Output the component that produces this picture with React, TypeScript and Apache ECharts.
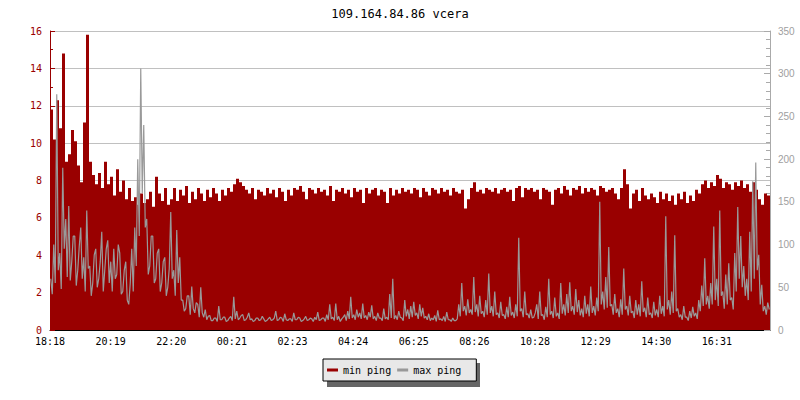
import { useEffect, useRef } from 'react';
import * as echarts from 'echarts';

const TITLE = '109.164.84.86 vcera';
const MIN_SAMPLE_MINUTES = 6;
const MAX_SAMPLE_MINUTES = 3;
const SPAN_MINUTES = 1440;
const TICK_STEP = 121.25;
const tickLabels = ['18:18', '20:19', '22:20', '00:21', '02:23', '04:24', '06:25', '08:26', '10:28', '12:29', '14:30', '16:31'];

// min ping (left axis), one value every 6 minutes
const minPing = [
  11.8, 10.2, 12.3, 10.8, 14.8, 9.0, 9.4, 10.7, 10.1, 8.8, 7.9, 11.1, 15.8, 9.0, 8.3, 7.8, 8.4, 7.6, 9.0, 7.8,
  8.2, 7.2, 8.6, 7.4, 8.0, 7.0, 7.6, 6.9, 7.1, 6.7, 7.3, 6.8, 7.0, 7.4, 6.6, 8.2, 7.3, 6.9, 7.6, 6.7,
  7.0, 7.6, 6.9, 7.5, 7.2, 7.7, 6.8, 7.4, 7.0, 7.6, 7.3, 6.9, 7.5, 7.1, 7.6, 7.3, 6.9, 7.5, 7.2, 7.6,
  7.4, 7.8, 8.1, 7.9, 7.7, 7.5, 7.3, 7.6, 7.0, 7.5, 7.4, 7.2, 7.6, 7.3, 7.5, 7.1, 7.6, 7.4, 6.9, 7.5,
  7.2, 7.6, 7.5, 7.7, 7.4, 7.0, 7.6, 7.5, 7.3, 7.6, 7.4, 7.5, 7.2, 7.7, 6.9, 7.5, 7.4, 7.6, 7.3, 7.5,
  7.1, 7.6, 7.4, 7.5, 6.8, 7.6, 7.3, 7.5, 7.6, 7.2, 7.5, 7.4, 6.8, 7.6, 7.2, 7.5, 7.3, 7.6, 7.4, 7.5,
  7.3, 7.6, 7.5, 7.1, 7.6, 7.4, 7.2, 7.6, 7.5, 7.3, 7.6, 7.4, 7.5, 7.2, 7.6, 7.4, 7.3, 7.5, 6.5, 7.0,
  7.6, 7.9, 7.4, 7.5, 7.3, 7.6, 7.5, 7.4, 7.6, 7.3, 7.5, 7.6, 7.4, 7.5, 6.9, 7.6, 7.7, 7.1, 7.6, 7.5,
  7.6, 7.4, 7.5, 7.0, 7.6, 7.5, 7.4, 6.7, 7.5, 7.6, 7.3, 7.7, 7.5, 7.2, 7.6, 7.5, 7.7, 7.3, 7.6, 7.4,
  7.6, 7.5, 7.2, 7.7, 7.6, 7.4, 7.5, 7.6, 7.3, 7.0, 7.6, 8.6, 7.8, 6.5, 7.3, 7.5, 6.9, 7.6, 7.2, 7.0,
  7.3, 7.1, 6.8, 7.4, 7.0, 7.3, 6.9, 7.2, 6.7, 7.3, 7.0, 7.4, 6.8, 7.2, 6.9, 7.5, 7.3, 7.8, 8.0, 7.6,
  7.9, 7.7, 8.3, 8.1, 7.6, 7.9, 7.8, 7.5, 7.9, 7.7, 8.0, 7.6, 7.8, 7.4, 7.9, 7.5, 7.0, 6.7, 7.3, 7.2,
];

// max ping (right axis), one value every 3 minutes
const maxPing = [
  60, 42, 100, 55, 276, 70, 90, 48, 190, 95, 130, 62, 145, 58, 80, 110, 110, 52, 70, 98,
  120, 60, 85, 45, 140, 72, 75, 40, 55, 88, 95, 50, 60, 80, 115, 45, 70, 95, 105, 55,
  80, 45, 95, 60, 65, 100, 90, 42, 45, 70, 80, 35, 30, 55, 95, 45, 120, 75, 200, 110,
  306, 160, 240, 120, 130, 65, 75, 110, 110, 55, 60, 90, 95, 45, 55, 80, 85, 40, 50, 72,
  138, 60, 70, 40, 117, 55, 85, 35, 35, 22, 25, 40, 40, 18, 51, 25, 20, 32, 30, 15,
  50, 20, 15, 24, 12, 16, 17, 11, 11, 14, 14, 10, 28, 12, 12, 15, 15, 10, 11, 14,
  16, 11, 39, 13, 22, 12, 14, 17, 18, 11, 12, 15, 20, 12, 13, 10, 11, 14, 14, 11,
  12, 16, 13, 10, 11, 13, 15, 11, 12, 14, 22, 11, 12, 15, 14, 10, 19, 12, 11, 13,
  13, 10, 20, 12, 12, 15, 14, 10, 11, 13, 16, 11, 12, 14, 13, 10, 15, 12, 21, 11,
  12, 14, 14, 10, 18, 12, 30, 13, 15, 11, 31, 12, 16, 10, 13, 15, 18, 11, 22, 13,
  39, 14, 18, 12, 24, 15, 20, 13, 31, 14, 17, 12, 21, 15, 29, 13, 16, 11, 20, 14,
  14, 11, 25, 13, 15, 12, 42, 14, 60, 13, 17, 12, 22, 15, 14, 11, 35, 16, 24, 13,
  28, 15, 33, 17, 20, 13, 30, 16, 26, 14, 16, 12, 19, 11, 14, 12, 17, 10, 23, 12,
  13, 11, 16, 10, 21, 12, 12, 10, 14, 11, 11, 13, 30, 16, 55, 22, 28, 17, 36, 20,
  24, 18, 62, 21, 30, 16, 40, 19, 22, 15, 35, 18, 66, 20, 28, 16, 45, 18, 20, 14,
  33, 17, 18, 13, 27, 15, 39, 17, 21, 14, 30, 16, 108, 22, 25, 15, 45, 18, 19, 14,
  24, 14, 15, 20, 30, 13, 45, 17, 18, 12, 27, 15, 60, 18, 22, 14, 38, 16, 20, 13,
  55, 19, 30, 17, 42, 20, 56, 22, 28, 18, 48, 21, 35, 17, 25, 15, 40, 19, 30, 16,
  51, 20, 28, 17, 38, 22, 150, 30, 45, 24, 62, 26, 97, 28, 30, 18, 42, 20, 25, 15,
  36, 18, 72, 24, 28, 17, 40, 20, 22, 14, 35, 18, 30, 16, 57, 21, 26, 15, 38, 18,
  20, 14, 33, 17, 24, 15, 40, 19, 28, 16, 133, 24, 35, 18, 45, 20, 111, 22, 25, 15,
  18, 12, 28, 15, 15, 11, 22, 14, 27, 16, 20, 13, 35, 22, 52, 28, 84, 30, 40, 25,
  55, 30, 121, 35, 60, 28, 140, 40, 45, 25, 65, 30, 78, 35, 38, 24, 90, 45, 144, 60,
  110, 50, 75, 40, 60, 35, 115, 45, 174, 60, 196, 70, 88, 30, 53, 22, 28, 18, 32, 24,
];

const toStepSeries = (vals: number[], step: number) => {
  const pts = vals.map((v, i) => [i * step, v]);
  pts.push([SPAN_MINUTES, vals[vals.length - 1]]);
  return pts;
};
const toLineSeries = (vals: number[], step: number) => vals.map((v, i) => [i * step + step / 2, v]);

const MONO = 'DejaVu Sans Mono';
const RED = '#990000';
const GREY = '#999999';

export default function App() {
  const ref = useRef<HTMLDivElement>(null);
  useEffect(() => {
    if (!ref.current) return;
    const chart = echarts.init(ref.current, null, { renderer: 'svg' });
    chart.setOption({
      animation: false,
      backgroundColor: '#ffffff',
      title: {
        text: TITLE,
        left: 'center',
        top: 3,
        textStyle: { fontFamily: MONO, fontSize: 12, fontWeight: 'normal', color: '#000' },
      },
      graphic: [
        { type: 'rect', shape: { x: 327, y: 363, width: 153, height: 24 }, style: { fill: '#666666' }, z: 0 },
      ],
      legend: {
        left: 323,
        top: 359,
        padding: [6, 15, 6, 4],
        itemWidth: 11,
        itemHeight: 3,
        itemGap: 6,
        icon: 'rect',
        backgroundColor: '#e8e8e8',
        borderColor: '#000',
        borderWidth: 1,
        textStyle: { fontFamily: MONO, fontSize: 10, color: '#000' },
        data: [
          { name: 'min ping', itemStyle: { color: RED } },
          { name: 'max ping', itemStyle: { color: GREY } },
        ],
      },
      grid: { left: 50, right: 30, top: 31, bottom: 70, containLabel: false },
      xAxis: {
        type: 'value',
        min: 0,
        max: SPAN_MINUTES,
        interval: TICK_STEP,
        axisLine: { show: true, lineStyle: { color: '#000', width: 1 } },
        axisTick: { show: true, inside: true, length: 5, lineStyle: { color: '#000' } },
        splitLine: { show: false },
        axisLabel: {
          fontFamily: MONO,
          fontSize: 10,
          color: '#000',
          margin: 6,
          showMaxLabel: false,
          formatter: (v: number) => {
            const k = Math.round(v / TICK_STEP);
            return Math.abs(v - k * TICK_STEP) < 0.01 && tickLabels[k] ? tickLabels[k] : '';
          },
        },
      },
      yAxis: [
        {
          type: 'value',
          min: 0,
          max: 16,
          interval: 2,
          position: 'left',
          axisLine: { show: true, lineStyle: { color: RED, width: 1 } },
          axisTick: { show: true, inside: true, length: 5, lineStyle: { color: RED } },
          minorTick: { show: true, splitNumber: 2, length: 3, lineStyle: { color: RED } },
          splitLine: { show: true, lineStyle: { color: '#c0c0c0', width: 1 } },
          axisLabel: { fontFamily: MONO, fontSize: 10, color: RED, margin: 8 },
        },
        {
          type: 'value',
          min: 0,
          max: 350,
          interval: 50,
          position: 'right',
          axisLine: { show: true, lineStyle: { color: '#aaaaaa', width: 1 } },
          axisTick: { show: true, inside: true, length: 6, lineStyle: { color: '#aaaaaa' } },
          minorTick: { show: true, splitNumber: 5, length: 4, lineStyle: { color: '#aaaaaa' } },
          splitLine: { show: false },
          axisLabel: { fontFamily: 'Liberation Sans', fontSize: 10, color: '#a0a0a0', margin: 8 },
        },
      ],
      series: [
        {
          name: 'min ping',
          type: 'line',
          yAxisIndex: 0,
          step: 'end',
          symbol: 'none',
          color: RED,
          lineStyle: { width: 0, color: RED },
          areaStyle: { color: RED, opacity: 1 },
          data: toStepSeries(minPing, MIN_SAMPLE_MINUTES),
          z: 2,
        },
        {
          name: 'max ping',
          type: 'line',
          yAxisIndex: 1,
          symbol: 'none',
          color: GREY,
          lineStyle: { width: 1.2, color: GREY },
          data: toLineSeries(maxPing, MAX_SAMPLE_MINUTES),
          z: 3,
        },
      ],
    });
    return () => chart.dispose();
  }, []);
  return <div ref={ref} style={{ position: 'fixed', left: 0, top: 0, width: 800, height: 400 }} />;
}
